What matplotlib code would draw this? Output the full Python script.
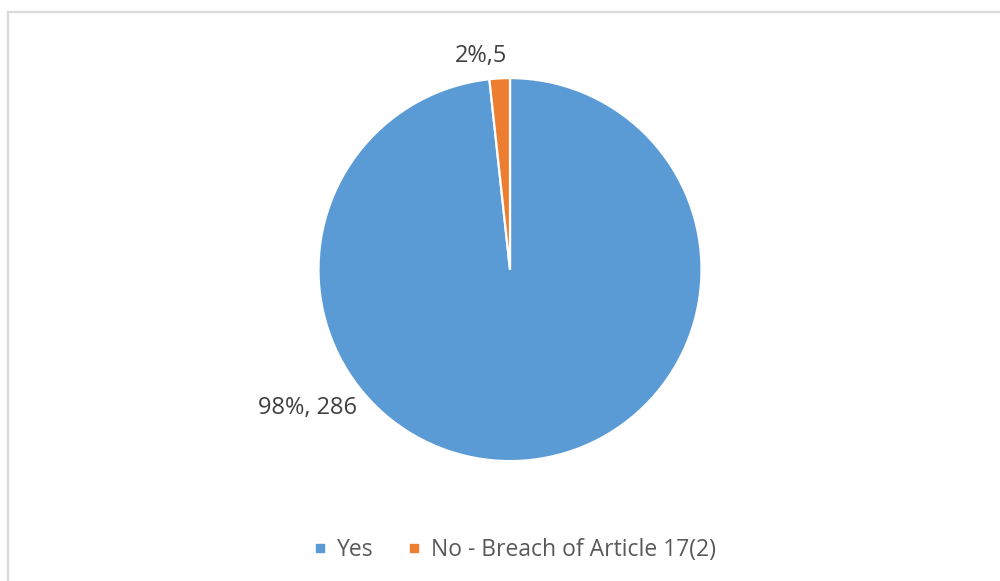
import matplotlib.pyplot as plt
from matplotlib.patches import Rectangle
from matplotlib.lines import Line2D

# ---- data ----
labels = ["Yes", "No - Breach of Article 17(2)"]
counts = [286, 5]
percents = [98, 2]
label_texts = [f"{percents[0]}%, {counts[0]}", f"{percents[1]}%,{counts[1]}"]
colors = ["#5B9BD5", "#ED7D31"]

plt.rcParams['font.family'] = ['Open Sans', 'DejaVu Sans']

fig = plt.figure(figsize=(10, 5.81), dpi=100)

# chart area border (runs off the right/bottom edge)
fig.patches.append(Rectangle((0.0075, -0.05), 1.2, 1.03, transform=fig.transFigure,
                             fill=False, edgecolor="#d9d9d9", linewidth=1.6))

# pie axes, centred around (510, 269) px
ax = fig.add_axes([0.510 - 0.1915, 0.536 - 0.3296, 0.383, 0.6592])
wedges, _ = ax.pie(counts, colors=colors, startangle=90, counterclock=False,
                   radius=1.0, wedgeprops=dict(edgecolor="white", linewidth=1.6))
ax.set_xlim(-1, 1)
ax.set_ylim(-1, 1)
ax.set_aspect("equal")
ax.axis("off")

# data labels
label_pos = [(-1.057, -0.723), (-0.149, 1.117)]
for txt, (x, y) in zip(label_texts, label_pos):
    ax.text(x, y, txt, ha="center", va="center", fontsize=17, color="#404040")

# legend
handles = [Line2D([], [], marker="s", linestyle="none", markersize=6,
                  markerfacecolor=c, markeredgecolor=c) for c in colors]
fig.legend(handles, labels, loc="center", bbox_to_anchor=(0.515, 0.054), ncol=2,
           frameon=False, fontsize=16.5, labelcolor="#595959",
           handlelength=0.5, handletextpad=0.5, columnspacing=1.5)

fig.savefig("out.png", dpi=100, facecolor="white")
